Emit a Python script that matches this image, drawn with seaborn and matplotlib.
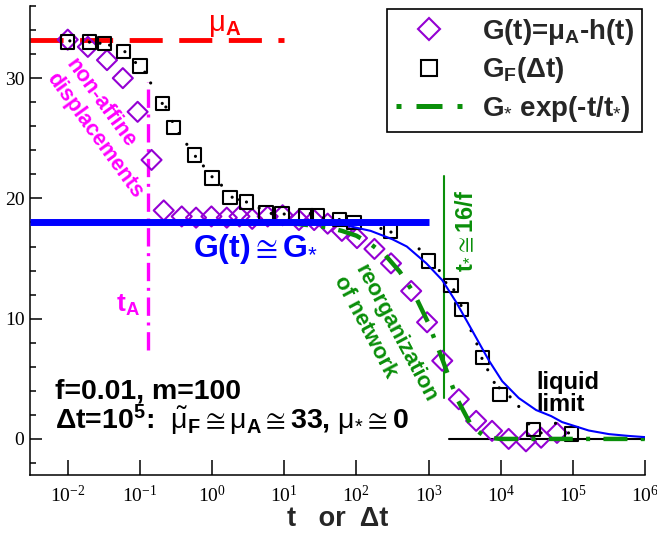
import matplotlib
matplotlib.use("Agg")
import matplotlib.pyplot as plt
import seaborn as sns
import pandas as pd
from matplotlib.lines import Line2D
from matplotlib.ticker import MultipleLocator, NullLocator, FixedLocator

# ---------------- data ----------------
# G(t) = mu_A - h(t)  (open diamonds)
t_G = [0.01, 0.019, 0.035, 0.058, 0.093, 0.145, 0.214, 0.38, 0.60, 0.98, 1.6, 2.4,
       3.6, 5.9, 9.5, 16, 26, 40, 63, 102, 178, 302, 575, 955, 1550, 2630, 4570,
       7590, 12900, 22400, 36300, 60300]
G_t = [33.2, 32.6, 31.5, 30.0, 27.2, 23.2, 19.0, 18.5, 18.4, 18.5, 18.4, 18.5,
       18.3, 18.5, 18.6, 18.2, 18.2, 17.9, 17.3, 16.7, 15.8, 14.6, 12.3, 9.7, 6.5,
       3.3, 1.5, 0.67, 0.0, -0.2, 0.1, 0.5]

# G_F(Delta t)  (open squares)
dt_F = [0.01, 0.02, 0.032, 0.059, 0.1, 0.204, 0.295, 0.575, 1.0, 1.78, 3.0, 5.6,
        9.3, 20, 29, 58, 93, 300, 1000, 2040, 2880, 5600, 9800, 28800, 95500]
G_F = [33.0, 33.0, 32.9, 32.2, 31.0, 27.9, 25.9, 23.6, 21.7, 20.1, 19.7, 18.8,
       18.7, 18.6, 18.6, 18.25, 18.0, 17.3, 14.8, 12.75, 10.75, 6.75, 3.7, 0.8, 0.4]

# finely sampled G_F (small black dots)
dt_dots = [0.0107, 0.02, 0.028, 0.038, 0.062, 0.087, 0.117, 0.141, 0.204, 0.229,
           0.282, 0.347, 0.447, 0.589, 0.759, 1.0, 1.35, 1.9, 2.4, 3.0, 4.5, 6.6,
           10, 23, 35, 58, 93, 219, 302, 741, 1410, 1740, 2240, 2820, 3890, 4680,
           5500, 6610, 8130, 9550, 13500, 17800, 24500, 36300, 57500, 87100]
G_dots = [33.1, 33.0, 32.9, 32.75, 32.2, 31.3, 30.5, 29.6, 27.9, 27.6, 26.4, 25.4,
          24.5, 23.5, 22.7, 21.8, 21.1, 20.1, 19.9, 19.7, 19.2, 18.75, 18.7, 18.75,
          18.4, 18.25, 18.0, 17.5, 17.2, 15.8, 14.0, 13.0, 12.4, 11.1, 9.0, 7.9,
          6.7, 5.75, 4.7, 4.25, 3.5, 2.7, 1.25, 0.5, 1.3, 0.5]

# thin blue curve
t_blue = [79, 158, 316, 500, 933, 1550, 2400, 3550, 5000, 6900, 10500, 17800,
          31000, 50000, 71000, 166000, 316000, 590000, 1000000]
G_blue = [17.7, 17.3, 16.6, 16.0, 14.6, 13.2, 11.4, 9.6, 8.0, 6.5, 4.8, 3.4,
          2.4, 1.9, 1.4, 0.7, 0.4, 0.25, 0.15]

# G_* exp(-t/t_*)  (green dash-dot)
t_exp = [10, 20, 40, 63, 100, 158, 250, 400, 630, 1000, 1580, 2500, 4000, 6300,
         10000, 1000000]
G_exp = [18.0, 17.8, 17.6, 17.3, 16.9, 16.2, 15.3, 13.9, 12.1, 9.6, 6.5, 3.3,
         1.0, 0.12, 0.0, 0.0]

# reference levels
mu_A = 33.2
G_star = 18.0
t_A = 0.128
t_star = 1620
mu_A_end = 10
G_star_end = 1000
tA_range = [7.4, 29.7]
tstar_range = [3.4, 21.9]
liquid_range = [1900, 1000000]

x_ticks = [1e-2, 1e-1, 1e0, 1e1, 1e2, 1e3, 1e4, 1e5, 1e6]
y_ticks = [0, 10, 20, 30]

# ---------------- styling ----------------
sns.set_theme(style="ticks")
plt.rcParams["font.family"] = ["Liberation Sans", "DejaVu Sans"]
plt.rcParams.update({
    "mathtext.fontset": "custom",
    "mathtext.rm": "Liberation Sans",
    "mathtext.bf": "Liberation Sans:bold",
    "mathtext.it": "Liberation Sans:italic",
    "mathtext.sf": "Liberation Sans",
    "mathtext.fallback": "stixsans",
    "axes.linewidth": 1.1,
})

purple = "#9400D3"
green = "#0A8F0A"
blue = "#0000FF"
red = "#FF0000"
magenta = "#FF00FF"
FAM = ["Liberation Sans", "DejaVu Sans"]

fig = plt.figure(figsize=(6.57, 5.33), dpi=100)
ax = fig.add_axes([30 / 657, 1 - 475 / 533, 615 / 657, 469 / 533])

df_G = pd.DataFrame({"t": t_G, "G": G_t})
df_F = pd.DataFrame({"t": dt_F, "G": G_F})
df_d = pd.DataFrame({"t": dt_dots, "G": G_dots})
df_b = pd.DataFrame({"t": t_blue, "G": G_blue})
df_e = pd.DataFrame({"t": t_exp, "G": G_exp})

sns.scatterplot(data=df_G, x="t", y="G", marker="D", s=104, color=purple,
                facecolor="none", edgecolor=purple, linewidth=1.5, ax=ax, zorder=3)
sns.scatterplot(data=df_F, x="t", y="G", marker="s", s=92, color="black",
                facecolor="none", edgecolor="black", linewidth=1.5, ax=ax, zorder=3)
sns.scatterplot(data=df_d, x="t", y="G", marker="o", s=5, color="black",
                edgecolor="none", ax=ax, zorder=4)

# reference lines
ax.plot([3e-3, mu_A_end], [mu_A, mu_A], color=red, lw=3.5,
        linestyle=(0, (6.8, 3.4)), zorder=2)
ax.plot([t_A, t_A], tA_range, color=magenta, lw=2.4,
        linestyle=(0, (5.5, 2.0, 0.9, 2.0)), zorder=2)
ax.plot([t_star, t_star], tstar_range, color=green, lw=1.5, zorder=2)
ax.plot(liquid_range, [0, 0], color="black", lw=1.5, zorder=2)

sns.lineplot(data=df_e, x="t", y="G", color=green, lw=3.2, sort=False,
             estimator=None, linestyle=(0, (5.4, 3.0, 0.9, 3.0)), ax=ax, zorder=5)
ax.plot([3e-3, G_star_end], [G_star, G_star], color=blue, lw=5, zorder=6,
        solid_capstyle="butt")
sns.lineplot(data=df_b, x="t", y="G", color=blue, lw=1.5, sort=False,
             estimator=None, ax=ax, zorder=7)

# axes
ax.set_xscale("log")
ax.set_xlim(3e-3, 1e6)
ax.set_ylim(-3, 36)
ax.xaxis.set_major_locator(FixedLocator(x_ticks))
ax.xaxis.set_minor_locator(NullLocator())
ax.yaxis.set_major_locator(FixedLocator(y_ticks))
ax.yaxis.set_minor_locator(MultipleLocator(2))
for s in ["top", "right"]:
    ax.spines[s].set_visible(False)
for s in ["left", "bottom"]:
    ax.spines[s].set_color("black")
    ax.spines[s].set_linewidth(1.1)
ax.tick_params(which="both", direction="in", colors="black", width=1.1)
ax.tick_params(axis="x", which="major", length=11, pad=7)
ax.tick_params(axis="y", which="major", length=8.5, pad=4)
ax.tick_params(axis="y", which="minor", length=4.5)
for lab in ax.get_xticklabels() + ax.get_yticklabels():
    lab.set_fontfamily("Liberation Serif")
    lab.set_fontsize(14)
ax.set_xlabel("t   or  Δt", fontsize=19.5, fontweight="bold", labelpad=0)
ax.set_ylabel("")

CONG = r"$\cong$"

# annotations
ax.text(1.5, 34.4, r"$\mathrm{\mu}_{\mathbf{A}}$", color=red, fontsize=21,
        ha="center", va="center")
ax.text(0.032, 25.8, "non-affine\ndisplacements", color=magenta, fontsize=15.5,
        fontweight="bold", rotation=-54, rotation_mode="anchor", ha="center",
        va="center", multialignment="left", family=FAM)
ax.text(0.068, 11.1, r"t$_{\mathbf{A}}$", color=magenta, fontsize=19,
        fontweight="bold", ha="center", va="center", family=FAM)
ax.text(4.0, 15.8, "G(t)" + CONG + r"G$_{*}$", color=blue, fontsize=23,
        fontweight="bold", ha="center", va="center", family=FAM)
ax.text(251, 8.3, "reorganization\nof network", color=green, fontsize=16,
        fontweight="bold", rotation=-62, rotation_mode="anchor", ha="center",
        va="center", multialignment="left", family=FAM)
ax.text(3100, 17.3, r"t$_{*}$" + CONG + "16/f", color=green, fontsize=17,
        fontweight="bold", rotation=90, ha="center", va="center", family=FAM)
ax.text(31600, 3.8, "liquid\nlimit", color="black", fontsize=17,
        fontweight="bold", ha="left", va="center", linespacing=0.95, family=FAM)
ax.text(0.0066, 3.4, "f=0.01, m=100", color="black", fontsize=20.5,
        fontweight="bold", ha="left", va="baseline", family=FAM)
ax.text(0.0066, 0.83,
        r"Δt=10$^{\mathbf{5}}$:  $\tilde{\mathrm{\mu}}_{\mathbf{F}}$" + CONG +
        r"$\mathrm{\mu}_{\mathbf{A}}$" + CONG + r"33, $\mathrm{\mu}_{*}$" +
        CONG + "0",
        color="black", fontsize=20.5, fontweight="bold", ha="left",
        va="baseline", family=FAM)

# legend
h1 = Line2D([], [], marker="D", ms=11.5, mfc="none", mec=purple, mew=1.5, ls="none")
h2 = Line2D([], [], marker="s", ms=11.5, mfc="none", mec="black", mew=1.5, ls="none")
h3 = Line2D([], [], color=green, lw=3.6, ls=(8.2, (5.2, 3.0, 1.0, 3.0)))
leg = ax.legend([h1, h2, h3],
                [r"G(t)=μ$_{\mathbf{A}}$-h(t)", r"G$_{\mathbf{F}}$(Δt)",
                 r"G$_{*}$ exp(-t/t$_{*}$)"],
                loc="upper right", bbox_to_anchor=(1.0, 1.0), borderaxespad=0.1,
                frameon=True, fancybox=False, framealpha=1, edgecolor="black",
                prop={"family": FAM, "weight": "bold", "size": 20},
                handlelength=2.4, handletextpad=0.7, borderpad=0.3,
                labelspacing=0.3)
leg.get_frame().set_linewidth(1.2)

fig.savefig("out.png", dpi=100)
